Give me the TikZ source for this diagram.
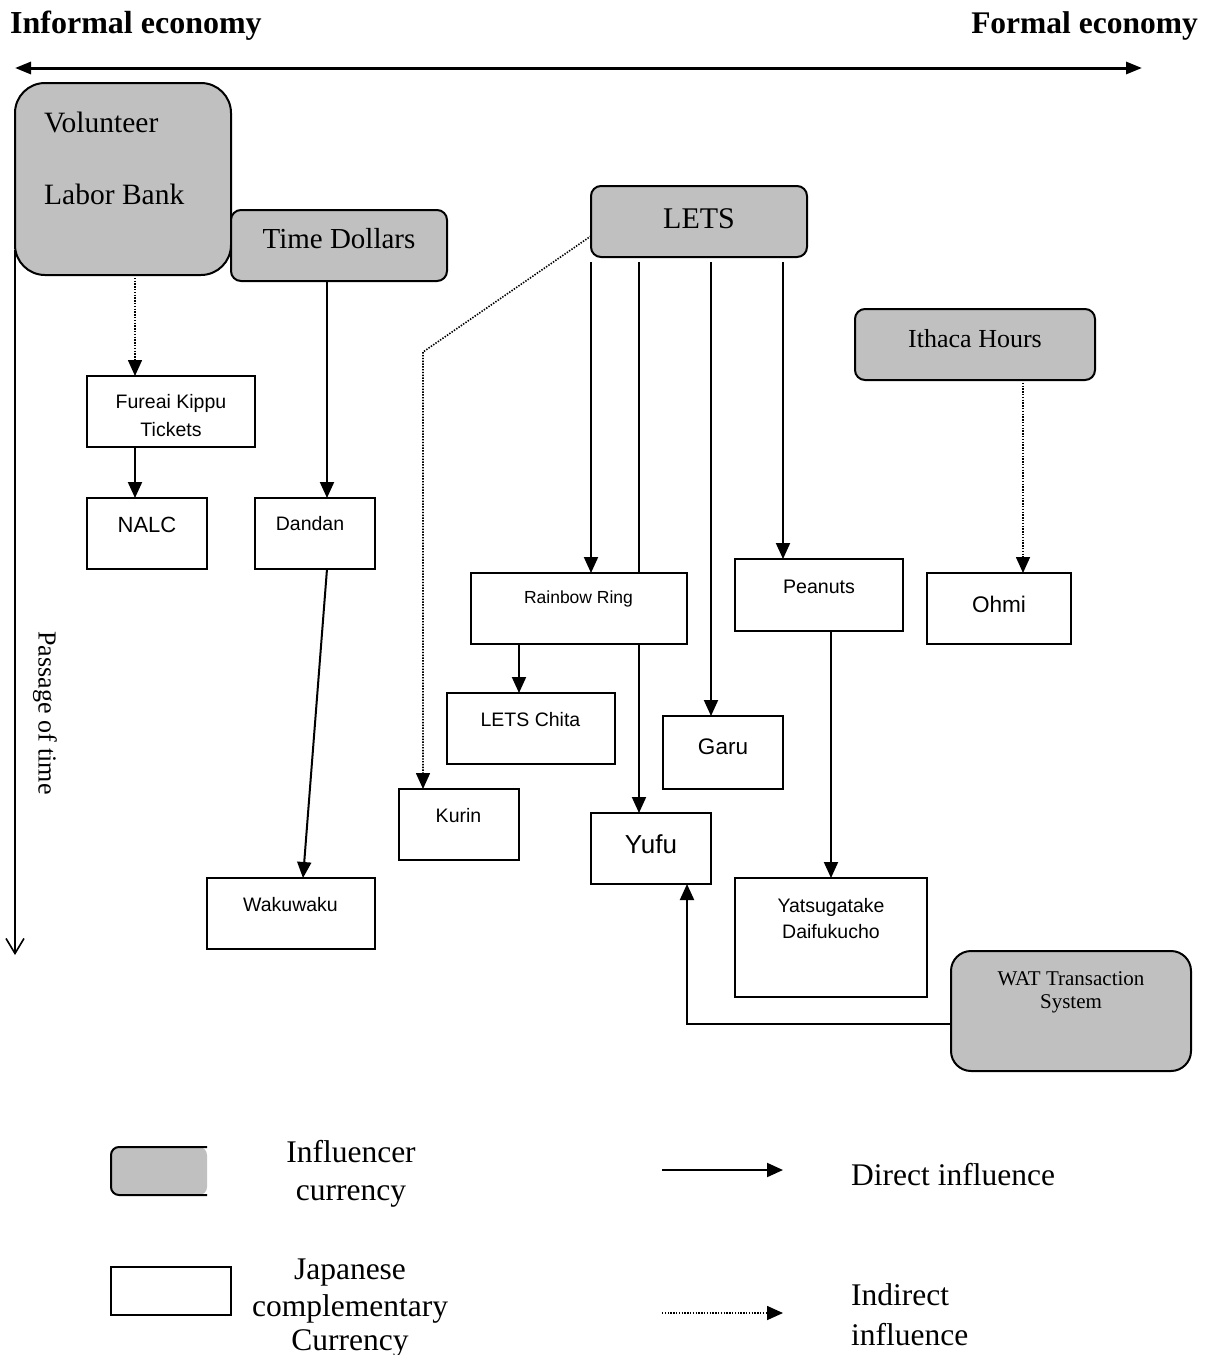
\documentclass[tikz,border=0pt]{standalone}
\usepackage{fontspec}
\setmainfont{Liberation Serif}
\newfontfamily\arialf{Liberation Sans}
\usetikzlibrary{arrows.meta,calc,backgrounds}
\definecolor{infl}{RGB}{192,192,192}
\tikzset{
 inflbox/.style={draw, line width=2pt, fill=infl, inner sep=0pt, outer sep=0pt},
 jbox/.style={draw, line width=2.6pt, fill=white, inner sep=0pt, outer sep=0pt},
 conn/.style={line width=2pt, -{Triangle[length=16pt,width=14pt]}},
 iconn/.style={line width=1.6pt, dash pattern=on 1.4pt off 1.4pt, -{Triangle[length=16pt,width=14pt]}},
 ser/.style={inner sep=0pt, font=\fontsize{#1}{#1}\selectfont},
 ari/.style={inner sep=0pt, font=\arialf\fontsize{#1}{#1}\selectfont},
}
\begin{document}
\begin{tikzpicture}[x=1pt,y=-1pt]
\useasboundingbox (0,0) rectangle (1212,1355);

% header
\node[inner sep=0pt, anchor=base west, font=\bfseries\fontsize{32}{32}\selectfont] (inf) at (10,33) {Informal economy};
\node[inner sep=0pt, anchor=base east, font=\bfseries\fontsize{31.5}{31.5}\selectfont] (form) at (1198,33) {Formal economy};
\coordinate (ea) at (15,68);
\coordinate (eb) at (1142,68);
\draw[line width=3pt, {Triangle[length=16pt,width=12pt]}-{Triangle[length=16pt,width=12pt]}] (ea) -- (eb);

% influencer boxes
\node[inflbox, rounded corners=30pt, minimum width=216pt, minimum height=192pt] (vlb) at (123,179) {};
\node[inflbox, rounded corners=10pt, minimum width=216pt, minimum height=71pt] (td) at (339,245.5) {};
\node[inflbox, rounded corners=10pt, minimum width=216pt, minimum height=71pt] (lets) at (699,221.5) {};
\node[inflbox, rounded corners=10pt, minimum width=240pt, minimum height=71pt] (ith) at (975,344.5) {};
\node[inflbox, rounded corners=20pt, minimum width=240pt, minimum height=120pt] (wat) at (1071,1011) {};

% japanese boxes
\node[jbox, minimum width=168pt, minimum height=71pt] (fk) at (171,411.5) {};
\node[jbox, minimum width=120pt, minimum height=71pt] (nalc) at (147,533.5) {};
\node[jbox, minimum width=120pt, minimum height=71pt] (dan) at (315,533.5) {};
\node[jbox, minimum width=168pt, minimum height=71pt] (wak) at (291,913.5) {};
\node[jbox, minimum width=216pt, minimum height=71pt] (rr) at (579,608.5) {};
\node[jbox, minimum width=168pt, minimum height=71pt] (lc) at (531,728.5) {};
\node[jbox, minimum width=120pt, minimum height=71pt] (kur) at (459,824.5) {};
\node[jbox, minimum width=120pt, minimum height=71pt] (yufu) at (651,848.5) {};
\node[jbox, minimum width=120pt, minimum height=73pt] (garu) at (723,752.5) {};
\node[jbox, minimum width=168pt, minimum height=72pt] (pea) at (819,595) {};
\node[jbox, minimum width=144pt, minimum height=71pt] (ohmi) at (999,608.5) {};
\node[jbox, minimum width=192pt, minimum height=119pt] (yat) at (831,937.5) {};

% texts
\node[ser=29.5, anchor=base west] (tvol) at (44,132) {Volunteer};
\node[ser=29.5, anchor=base west] (tlab) at (44,204) {Labor Bank};
\node[ser=29, anchor=base] (ttd) at (339,248) {Time Dollars};
\node[ser=30, anchor=base] (tlets) at (699,228) {LETS};
\node[ser=26, anchor=base] (tith) at (975,347) {Ithaca Hours};
\node[ser=21, anchor=base] (twat1) at (1071,985) {WAT Transaction};
\node[ser=21, anchor=base] (twat2) at (1071,1008) {System};

\node[ari=19.5, anchor=base] (tfk1) at (171,408) {Fureai Kippu};
\node[ari=19.5, anchor=base] (tfk2) at (171,436) {Tickets};
\node[ari=22, anchor=base] (tnalc) at (147,532) {NALC};
\node[ari=19.5, anchor=base] (tdan) at (310,530) {Dandan};
\node[ari=19.5, anchor=base] (twak) at (290.5,911) {Wakuwaku};
\node[ari=17.5, anchor=base] (trr) at (578.5,603) {Rainbow Ring};
\node[ari=19.5, anchor=base] (tlc) at (530.5,726) {LETS Chita};
\node[ari=19.5, anchor=base] (tkur) at (458.5,822) {Kurin};
\node[ari=26, anchor=base] (tyufu) at (651,853) {Yufu};
\node[ari=22.5, anchor=base] (tgaru) at (723,754) {Garu};
\node[ari=19.6, anchor=base] (tpea) at (819,593) {Peanuts};
\node[ari=22.6, anchor=base] (tohmi) at (999,612) {Ohmi};
\node[ari=19.5, anchor=base] (tyat1) at (831,912) {Yatsugatake};
\node[ari=19.5, anchor=base] (tyat2) at (831,938) {Daifukucho};

\node[ser=26, rotate=-90] (tpass) at (45,713) {Passage of time};

% connectors (behind boxes)
\begin{scope}[on background layer]
\coordinate (tstart) at (15,250);
\coordinate (tend) at (15,955);
\draw[line width=1.6pt, -{Straight Barb[length=15pt,width=18pt]}] (tstart) -- (tend);
\draw[iconn] ($(vlb.south)+(12,0)$) -- ($(fk.north)+(-36,0)$);
\draw[conn] ($(fk.south)+(-36,0)$) -- ($(nalc.north)+(-12,0)$);
\draw[conn] ($(td.south)+(-12,0)$) -- ($(dan.north)+(12,0)$);
\draw[conn] ($(dan.south)+(12,0)$) -- ($(wak.north)+(12,0)$);
\draw[conn, shorten <=5pt] ($(lets.south)+(-108,0)$) -- ($(rr.north)+(12,0)$);
\draw[conn, shorten <=5pt] ($(lets.south)+(-60,0)$) -- ($(yufu.north)+(-12,0)$);
\draw[conn, shorten <=5pt] ($(lets.south)+(12,0)$) -- ($(garu.north)+(-12,0)$);
\draw[conn, shorten <=5pt] ($(lets.south)+(84,0)$) -- ($(pea.north)+(-36,0)$);
\draw[conn] ($(rr.south)+(-60,0)$) -- ($(lc.north)+(-12,0)$);
\draw[conn] ($(pea.south)+(12,-9)$) -- (yat.north);
\draw[iconn] ($(ith.south)+(48,0)$) -- ($(ohmi.north)+(24,0)$);
\coordinate (kbend) at (423,352);
\draw[iconn] ($(lets.west)+(0,14.5)$) -- (kbend) -- ($(kur.north)+(-36,0)$);
\draw[conn] ($(wat.west)+(0,13)$) -| ($(yufu.south)+(36,0)$);
\end{scope}

% legend
\fill[infl, rounded corners=8pt] (207,1147) -- (111,1147) -- (111,1195) -- (207,1195) -- cycle;
\draw[line width=2pt, rounded corners=8pt] (207,1147) -- (111,1147) -- (111,1195) -- (207,1195);
\node[jbox, line width=2pt, minimum width=120pt, minimum height=48pt] (ljb) at (171,1291) {};
\node[ser=31.5, anchor=base] (lin1) at (351,1162) {Influencer};
\node[ser=31.5, anchor=base] (lin2) at (351,1200) {currency};
\node[ser=31.5, anchor=base] (lj1) at (350,1279) {Japanese};
\node[ser=31.5, anchor=base] (lj2) at (350,1316) {complementary};
\node[ser=31.5, anchor=base] (lj3) at (350,1350) {Currency};
\coordinate (da) at (662,1170);
\coordinate (db) at (783,1170);
\draw[conn] (da) -- (db);
\coordinate (ia) at (662,1313);
\coordinate (ib) at (783,1313);
\draw[iconn] (ia) -- (ib);
\node[ser=31.5, anchor=base west] (ldi) at (851,1185) {Direct influence};
\node[ser=31.5, anchor=base west] (lii1) at (851,1305) {Indirect};
\node[ser=31.5, anchor=base west] (lii2) at (851,1345) {influence};
\end{tikzpicture}
\end{document}
